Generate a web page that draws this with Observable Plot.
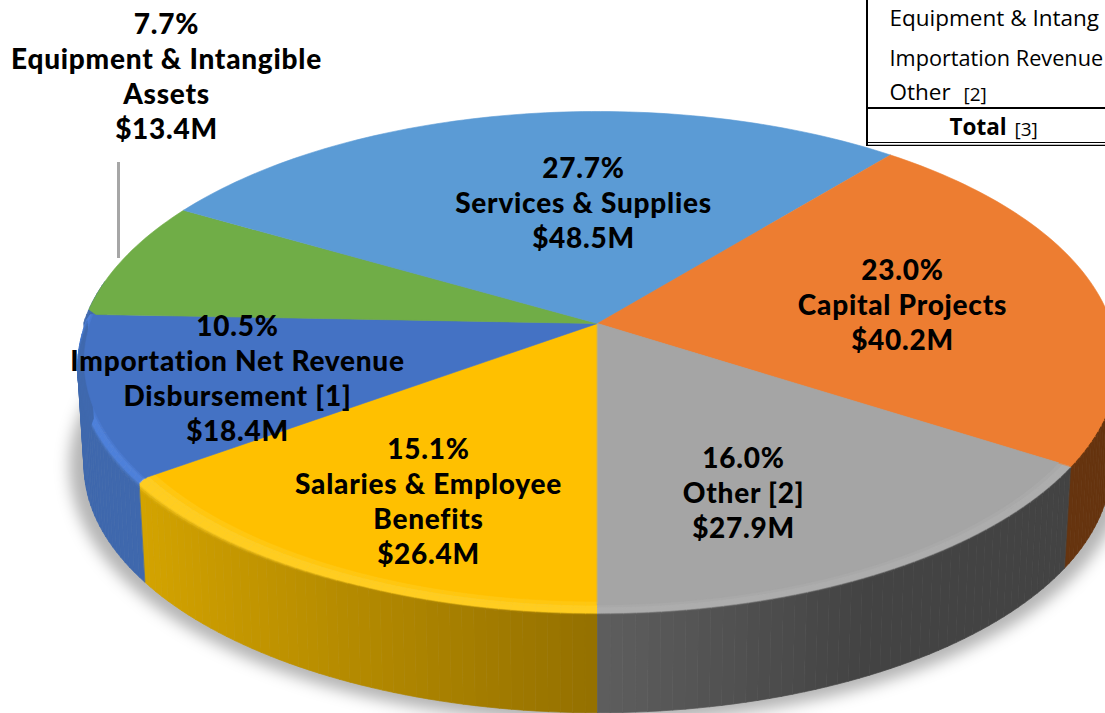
<!DOCTYPE html>
<html>
<head>
<meta charset="utf-8">
<script src="https://cdn.jsdelivr.net/npm/d3@7"></script>
<script src="https://cdn.jsdelivr.net/npm/@observablehq/plot@0.6"></script>
<style>html,body{margin:0;padding:0;background:#fff;overflow:hidden}
g[font-family="Lato"]{letter-spacing:.75px}</style>
</head>
<body>
<div id="chart"></div>
<script>
// Data, clockwise from the seam at the front of the pie
const categories = ["Salaries & Employee\nBenefits", "Importation Net Revenue\nDisbursement [1]", "Equipment & Intangible\nAssets", "Services & Supplies", "Capital Projects", "Other [2]"];
const shares = [15.1, 10.5, 7.7, 27.7, 23.0, 16.0];
const dollars = [26.4, 18.4, 13.4, 48.5, 40.2, 27.9];
// Table fragment
const tableRows = ["Equipment & Intang", "Importation Revenue", "Other"];
const tableNotes = ["[2]", "[3]"];
const tableTotal = "Total";

// Styles
const topColors = ["#ffc000", "#4472c4", "#70ad47", "#5b9bd5", "#ed7d31", "#a5a5a5"];
const rimColors = ["#ffcd20", "#4d80da", "#70ad47", "#5b9bd5", "#ed7d31", "#adadad"];
const sideNear = ["#947000", "#3f68ad", "#43682a", "#37618a", "#66340f", "#5e5e5e"];
const sideFar = ["#d4a400", "#3f68ad", "#43682a", "#37618a", "#66340f", "#434343"];
const bevelDepth = [0.13, 0.09, 0.02, 0.02, 0.02, 0.02];
const innerEdge = [0.965, 0.985, 0.98, 0.98, 0.998, 0.975];
const labelX = [428, 237, 166, 583, 902, 743];
const labelY = [500, 376.5, 75, 201, 303, 491];

// Tilted-disc perspective
const cx = 597, cy = 323, R = 514, S = 244.6, tilt = 0.1537, depth = 104, shrink = 0.013;
const rad = Math.PI / 180;
function project(a, r, h) {
  const X = -Math.sin(a * rad) * r, Y = Math.cos(a * rad) * r, d = 1 - tilt * Y, f = 1 - shrink * h;
  return [cx + f * R * X / d, cy + f * S * Y / d + depth * h];
}

const spans = [];
{ let acc = 0; for (const s of shares) { spans.push([acc * 3.6, (acc + s) * 3.6]); acc += s; } }

const polys = [];
let pid = 0;
function poly(points, color) {
  pid++;
  for (const [x, y] of points) polys.push({id: pid, x, y, color});
}
const mix = (a, b, t) => d3.interpolateRgb(a, b)(t);
const isFront = (a) => Math.cos(a * rad) > -0.04;

// The wall wraps a little past the left silhouette, behind the next slice
{
  const [, end] = spans[1];
  for (let a = end - 2; a < end + 8; a += 1) {
    poly([project(a, 1, 0), project(a + 1, 1, 0), project(a + 1, 1, 1), project(a, 1, 1)], sideFar[1]);
  }
}

// Outer walls and bevel: only the part of the disc facing the viewer
spans.forEach(([a0, a1], i) => {
  const n = Math.max(2, Math.ceil((a1 - a0) / 1.2));
  for (let k = 0; k < n; k++) {
    const p = a0 + (a1 - a0) * k / n, q = a0 + (a1 - a0) * (k + 1) / n, m = (p + q) / 2;
    if (!isFront(m)) continue;
    const sx = Math.abs(Math.sin(m * rad));
    const sideC = mix(sideNear[i], sideFar[i], Math.min(1, i === 5 ? sx / 0.45 : sx / 0.82));
    const hE = Math.max(0.02, bevelDepth[i] * sx * sx);
    const path = [
      [innerEdge[i], 0, topColors[i]],
      [innerEdge[i] + (1 - innerEdge[i]) * 0.45, 0, rimColors[i]],
      [innerEdge[i] + (1 - innerEdge[i]) * 0.6, hE * 0.1, rimColors[i]],
      [1, hE * 0.5, rimColors[i]],
      [1, hE * 0.7, mix(rimColors[i], sideC, 0.4)],
      [1, hE, mix(rimColors[i], sideC, 0.8)],
      [1, hE * 1.25, sideC],
      [1, 1, sideC]
    ];
    for (let j = 0; j < path.length - 1; j++) {
      const [r0, h0, c0] = path[j], [r1, h1, c1] = path[j + 1];
      poly([project(p, r0, h0), project(q, r0, h0), project(q, r1, h1), project(p, r1, h1)], j === path.length - 2 ? c1 : mix(c0, c1, 0.5));
    }
  }
});

// Top face
const faces = [];
spans.forEach(([a0, a1], i) => {
  faces.push({id: i, x: cx, y: cy, color: topColors[i]});
  const n = Math.ceil((a1 - a0) / 1.2);
  for (let k = 0; k <= n; k++) {
    const a = a0 + (a1 - a0) * k / n;
    const [x, y] = project(a, isFront(a) ? innerEdge[i] + 0.002 : 1, 0);
    faces.push({id: i, x, y, color: topColors[i]});
  }
});

// Soft shadow under the disc
const shadow = d3.range(0, 360, 2).map((a) => {
  const [x, y] = project(a, 1.02, 0.99);
  return {x, y};
});

const labels = categories.map((c, i) => ({
  x: labelX[i], y: labelY[i],
  text: `${shares[i].toFixed(1)}%\n${c}\n$${dollars[i].toFixed(1)}M`
}));

const solid = {x: "x", y: "y", z: "id", fill: "color", curve: "linear-closed"};

const chart = Plot.plot({
  width: 1105, height: 713,
  margin: 0,
  x: {domain: [0, 1105], range: [0, 1105], axis: null},
  y: {domain: [0, 713], range: [0, 713], axis: null},
  color: {type: "identity"},
  style: {background: "#fff", overflow: "hidden"},
  marks: [
    Plot.line(shadow, {x: "x", y: "y", curve: "linear-closed", fill: "#000", fillOpacity: 0.28, stroke: "#000", strokeOpacity: 0.28, strokeWidth: 6, imageFilter: "blur(8px)"}),
    Plot.line(polys, {...solid, stroke: "color", strokeWidth: 0.7}),
    Plot.line(faces, {...solid, stroke: "color", strokeWidth: 0.6}),
    Plot.ruleX([118], {y1: 162, y2: 258, stroke: "#a6a6a6", strokeWidth: 3}),
    Plot.text(labels, {x: "x", y: "y", text: "text", lineAnchor: "middle", textAnchor: "middle", lineHeight: 1.25, fontFamily: "Lato", fontWeight: 900, fontSize: 28, fill: "#000"}),
    // table fragment
    Plot.rect([0], {x1: 866, x2: 1105, y1: 0, y2: 145, fill: "#fff"}),
    Plot.ruleX([866.5], {y1: 0, y2: 145, stroke: "#000", strokeWidth: 2}),
    Plot.ruleY([107.5], {x1: 866, x2: 1105, stroke: "#000", strokeWidth: 2}),
    Plot.ruleY([142, 144.8], {x1: 866, x2: 1105, stroke: "#000", strokeWidth: 1.2}),
    Plot.text(tableRows.filter((_, i) => i !== 1), {x: 889, y: [25, 99], text: (d) => d, textAnchor: "start", lineAnchor: "bottom", fontFamily: "Open Sans", fontSize: 22.5, fill: "#000"}),
    Plot.text([tableRows[1]], {x: 889, y: 65, text: (d) => d, textAnchor: "start", lineAnchor: "bottom", fontFamily: "Open Sans", fontSize: 21.7, fill: "#000"}),
    Plot.text([tableTotal], {x: 949, y: 134, text: (d) => d, textAnchor: "start", lineAnchor: "bottom", fontFamily: "Open Sans", fontWeight: 700, fontSize: 22.5, fill: "#000"}),
    Plot.text(tableNotes, {x: [963, 1014], y: [100, 135], text: (d) => d, textAnchor: "start", lineAnchor: "bottom", fontFamily: "Open Sans", fontSize: 19, fill: "#000"})
  ]
});
document.getElementById("chart").appendChild(chart);
</script>
</body>
</html>
